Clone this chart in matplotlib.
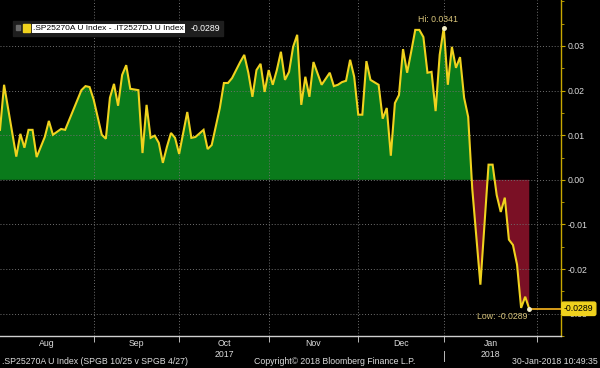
import numpy as np
import matplotlib
matplotlib.use("Agg")
import matplotlib.pyplot as plt
from matplotlib.patches import Rectangle
import matplotlib.transforms as mtrans

# spread .SP25270A U Index - .IT2527DJ U Index, by trading day from 1-Aug-2017
days = [0, 1, 4, 5, 6, 7, 8, 9, 11, 12, 13, 15, 16, 20, 21, 22, 23, 25, 26, 27,
        28, 29, 30, 31, 32, 34, 35, 36, 37, 38, 39, 40, 41, 42, 43, 44, 46, 47, 48, 50,
        51, 52, 54, 55, 56, 57, 59, 60, 61, 62, 63, 64, 65, 66, 67, 68, 69, 70, 71, 72,
        73, 74, 75, 76, 77, 79, 81, 82, 83, 84, 85, 86, 87, 88, 89, 90, 91, 93, 94, 95,
        96, 97, 98, 99, 100, 101, 102, 103, 104, 105, 106, 107, 108, 109, 110, 111, 112, 113, 114, 115,
        116, 118, 120, 121, 122, 123, 124, 125, 126, 127, 128, 129, 130]
spread = [0.0112, 0.0213, 0.0052, 0.0103, 0.0072, 0.0112, 0.0112, 0.0051, 0.0096, 0.0132,
          0.0101, 0.0114, 0.0112, 0.0201, 0.0210, 0.0208, 0.0180, 0.0101, 0.0092, 0.0184,
          0.0215, 0.0166, 0.0235, 0.0257, 0.0204, 0.0201, 0.0060, 0.0168, 0.0094, 0.0099,
          0.0083, 0.0038, 0.0074, 0.0105, 0.0094, 0.0058, 0.0152, 0.0094, 0.0096, 0.0112,
          0.0069, 0.0078, 0.0161, 0.0217, 0.0217, 0.0228, 0.0264, 0.0280, 0.0240, 0.0186,
          0.0246, 0.0260, 0.0197, 0.0246, 0.0213, 0.0246, 0.0287, 0.0224, 0.0242, 0.0298,
          0.0325, 0.0168, 0.0231, 0.0186, 0.0264, 0.0213, 0.0240, 0.0210, 0.0213, 0.0219,
          0.0222, 0.0269, 0.0231, 0.0146, 0.0146, 0.0266, 0.0224, 0.0213, 0.0137, 0.0161,
          0.0054, 0.0172, 0.0190, 0.0293, 0.0240, 0.0287, 0.0336, 0.0336, 0.0320, 0.0240,
          0.0242, 0.0154, 0.0280, 0.0341, 0.0213, 0.0298, 0.0251, 0.0275, 0.0184, 0.0141,
          -0.0020, -0.0235, 0.0034, 0.0034, -0.0034, -0.0072, -0.0040, -0.0134, -0.0146, -0.0190,
          -0.0287, -0.0262, -0.0289]

month_names = ["Aug", "Sep", "Oct", "Nov", "Dec", "Jan"]
month_starts = [0, 23, 44, 66, 88, 109, 132]
years = {"Oct": "2017", "Jan": "2018"}
yticks = [-0.03, -0.02, -0.01, 0.00, 0.01, 0.02, 0.03]

legend_label = ".SP25270A U Index - .IT2527DJ U Index"
footer_left = ".SP25270A U Index (SPGB 10/25 v SPGB 4/27)"
footer_mid = "Copyright\u00a9 2018 Bloomberg Finance L.P."
footer_right = "30-Jan-2018 10:49:35"

x = np.array(days, dtype=float)
y = np.array(spread)

plt.rcParams["font.family"] = ["Liberation Sans", "DejaVu Sans"]
plt.rcParams["font.size"] = 6.3

W, H = 600, 368
fig = plt.figure(figsize=(6, 3.68), dpi=100, facecolor="black")
ax = fig.add_axes([0, 1 - 336 / H, 561 / W, 336 / H], facecolor="black")

line_col = "#f0d21e"
axis_col = "#c8a800"
txt_col = "#dcdcdc"

ax.fill_between(x, y, 0, where=y >= 0, interpolate=True, color="#0a7a1b", lw=0, zorder=1)
ax.fill_between(x, y, 0, where=y <= 0, interpolate=True, color="#7a1025", lw=0, zorder=1)
ax.plot(x, y, color=line_col, lw=1.5, zorder=3, solid_joinstyle="miter")

xmax = 137.8
ax.set_xlim(0, xmax)
ax.set_ylim(-0.0349, 0.0403)

# last value line out to the axis
ax.plot([x[-1], xmax], [y[-1], y[-1]], color="#e8a91c", lw=1.3, zorder=3)

# grid
for v in yticks:
    ax.axhline(v, color="#707070", lw=0.7, ls=(0, (1, 2)), zorder=2)
for m in month_starts[1:]:
    ax.axvline(m, color="#707070", lw=0.7, ls=(0, (1, 2)), zorder=2)

# spines
for s in ["top", "left"]:
    ax.spines[s].set_visible(False)
ax.spines["right"].set_color(axis_col)
ax.spines["right"].set_linewidth(1.0)
ax.spines["bottom"].set_color("#cfcfcf")
ax.spines["bottom"].set_linewidth(1.0)

# y axis on the right
ax.yaxis.tick_right()
ax.set_yticks(yticks)
ax.set_yticklabels(["%.2f" % v for v in yticks])
ax.set_yticks(np.arange(-0.035, 0.0401, 0.005), minor=True)
ax.tick_params(axis="y", which="major", colors=axis_col, length=3, width=0.8,
               labelcolor=txt_col, pad=2)
ax.tick_params(axis="y", which="minor", colors=axis_col, length=2, width=0.6)

# x axis: boundaries as ticks, month names centred
ax.set_xticks(month_starts[1:])
ax.set_xticklabels([])
centres = [(a + b) / 2 for a, b in zip(month_starts[:-1], month_starts[1:])]
ax.set_xticks(centres, minor=True)
ax.set_xticklabels([m + ("\n" + years[m] if m in years else "") for m in month_names],
                   minor=True, linespacing=1.35)
ax.tick_params(axis="x", which="major", colors="#bbbbbb", length=4, width=0.7)
ax.tick_params(axis="x", which="minor", length=0, labelcolor=txt_col, pad=2)

# year separator
trans = mtrans.blended_transform_factory(ax.transData, ax.transAxes)
ax.plot([month_starts[5]] * 2, [-0.045, -0.075], transform=trans, color="#bbbbbb",
        lw=0.7, clip_on=False)

# hi / low markers
ih = int(np.argmax(y))
il = len(y) - 1 - int(np.argmin(y[::-1]))
ax.plot([x[ih], x[il]], [y[ih], y[il]], "o", ms=2.5, color="#f5f0c8", zorder=4)
ax.annotate("Hi: %.4f" % y[ih], (x[ih], y[ih]), xytext=(-6, 4), textcoords="offset pixels",
            ha="center", va="bottom", color="#d8c47a", fontsize=6.3)
ax.annotate("Low: %.4f" % y[il], (x[il], y[il]), xytext=(-2, -3), textcoords="offset pixels",
            ha="right", va="top", color="#d8c47a", fontsize=6.3)

# last value tag
ax.annotate("%.4f" % y[-1], (1.0, y[-1]), xycoords=("axes fraction", "data"),
            xytext=(3, 0), textcoords="offset pixels", ha="left", va="center",
            color="black", fontsize=6.3, annotation_clip=False, zorder=6,
            bbox=dict(boxstyle="round,pad=0.25,rounding_size=0.2", fc=line_col, ec=line_col))

# legend strip
def fx(px):
    return px / W

def fy(py):
    return 1 - py / H

fig.add_artist(Rectangle((fx(13), fy(36)), fx(210), 15 / H, transform=fig.transFigure,
                         color="#1e1e1e", zorder=5))
fig.add_artist(Rectangle((fx(16), fy(30)), fx(4), 5 / H, transform=fig.transFigure,
                         color="#6a6a6a", zorder=6))
fig.add_artist(Rectangle((fx(23), fy(32)), fx(7), 8 / H, transform=fig.transFigure,
                         color=line_col, zorder=6))
fig.text(fx(33), fy(28.5), legend_label, color="black", ha="left", va="center", zorder=7,
         fontsize=6.0, bbox=dict(boxstyle="square,pad=0.12", fc="white", ec="none"))
fig.text(fx(191), fy(28.5), "%.4f" % y[-1], color="white", ha="left", va="center", zorder=7)

# footer
fig.text(fx(2), fy(362), footer_left, color=txt_col, ha="left", va="center")
fig.text(fx(335), fy(362), footer_mid, color=txt_col, ha="center", va="center")
fig.text(fx(598), fy(362), footer_right, color=txt_col, ha="right", va="center")

fig.savefig("out.png", dpi=100, facecolor="black")
